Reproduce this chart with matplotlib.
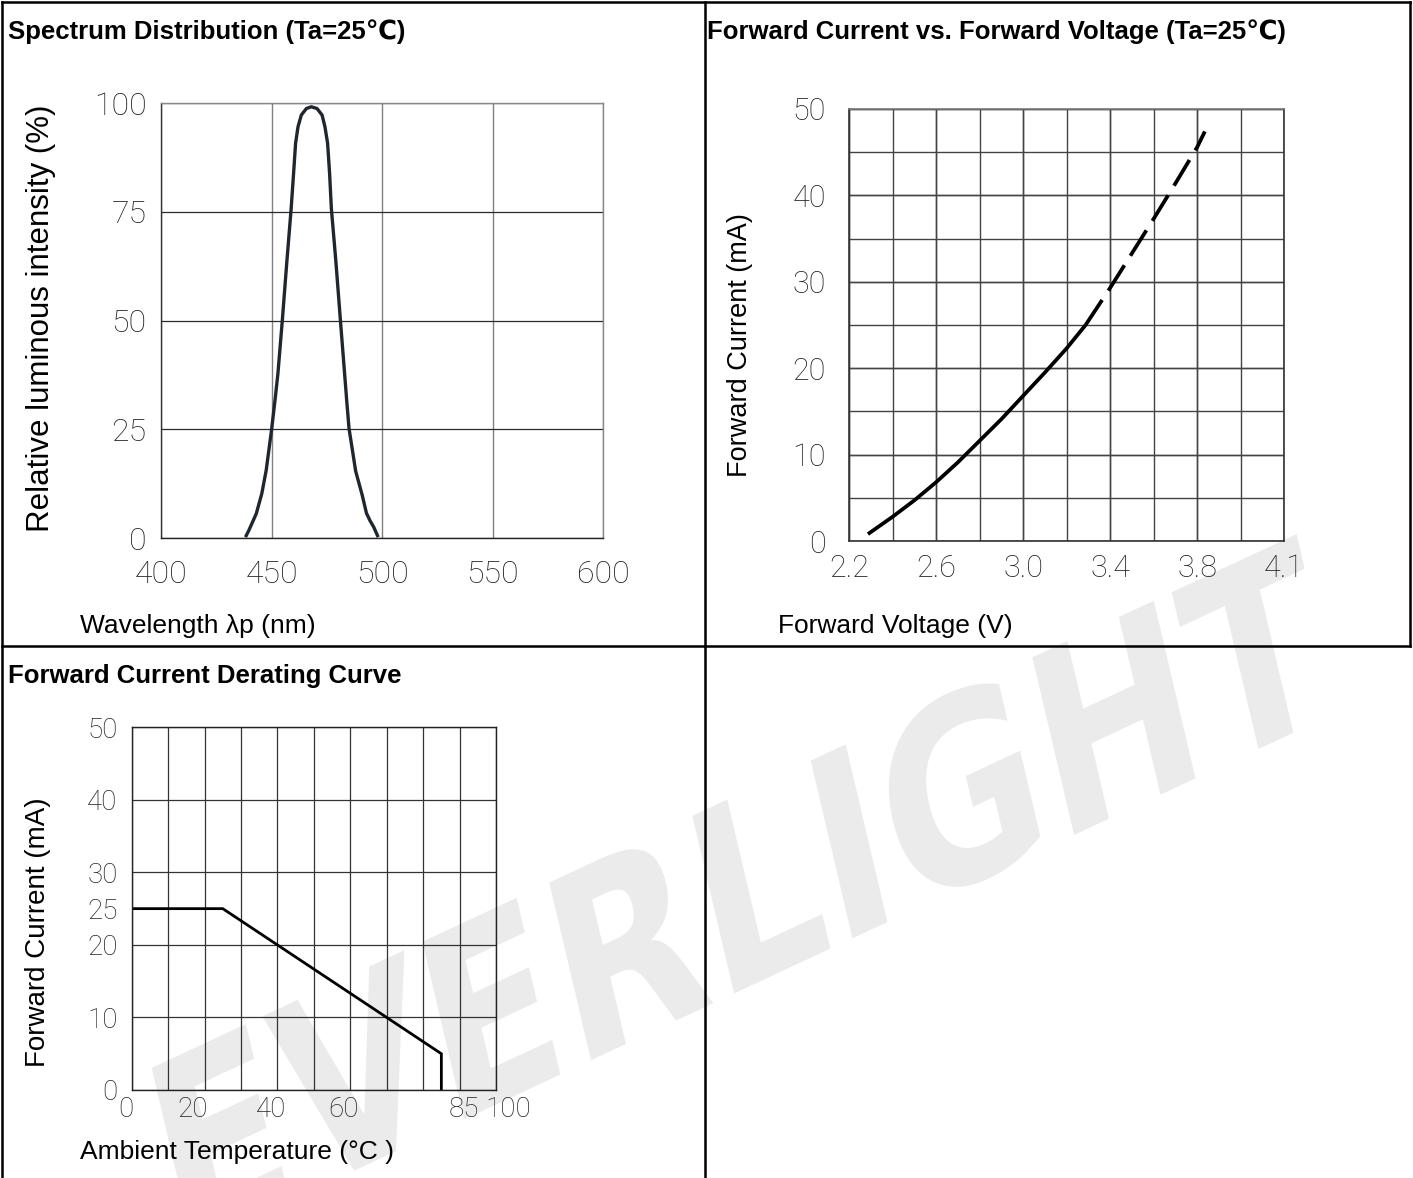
import matplotlib
matplotlib.use('Agg')
import matplotlib.pyplot as plt
import numpy as np
from matplotlib.lines import Line2D
from matplotlib.textpath import TextPath
from matplotlib.patches import PathPatch
from matplotlib.font_manager import FontProperties
from matplotlib.transforms import Affine2D, ScaledTranslation

W, H = 1413, 1178

# ---- data ----
# Spectrum distribution (Ta=25C)
spec_nm = [438.1, 439.5, 441.0, 443.0, 445.5, 447.5, 448.7, 450.0, 451.4, 452.8,
           454.8, 456.9, 458.8, 459.9, 460.8, 461.9, 463.4, 465.7, 467.9, 470.5,
           472.8, 474.1, 475.3, 476.2, 477.0, 479.0, 481.1, 483.0, 484.0, 485.0,
           486.6, 488.0, 491.0, 492.9, 494.6, 496.2, 498.2]
spec_pct = [0.2, 1.6, 3.3, 5.6, 10.2, 15.6, 20.2, 25.2, 31.3, 37.8,
            50.1, 63.9, 75.8, 83.9, 90.8, 94.6, 97.3, 98.8, 99.2, 98.8,
            97.3, 94.6, 90.8, 83.9, 75.8, 63.9, 50.1, 37.8, 31.3, 25.2,
            20.0, 15.4, 9.8, 5.7, 3.9, 2.5, 0.2]
spec_xticks = [400, 450, 500, 550, 600]
spec_yticks = [0, 25, 50, 75, 100]

# Forward current vs forward voltage (solid = measured, dashed = extrapolated)
iv_v = [2.287, 2.4, 2.5, 2.6, 2.7, 2.8, 2.9, 3.0, 3.1, 3.2, 3.287]
iv_ma = [0.8, 2.8, 4.7, 6.8, 9.1, 11.6, 14.1, 16.8, 19.5, 22.3, 25.0]
iv_v_ext = [3.287, 3.4, 3.5, 3.6, 3.7, 3.8, 3.835]
iv_ma_ext = [25.0, 29.3, 33.3, 37.3, 41.4, 45.6, 47.4]
iv_xticks = [2.2, 2.6, 3.0, 3.4, 3.8, 4.2]
iv_xticklabels = ['2.2', '2.6', '3.0', '3.4', '3.8', '4.1']
iv_yticks = [0, 10, 20, 30, 40, 50]

# Forward current derating curve
der_temp = [0, 25, 85, 85]
der_ma = [25, 25, 5, 0]
der_xticks = [0, 20, 40, 60, 85, 100]
der_yticks = [0, 10, 20, 25, 30, 40, 50]

titles = ['Spectrum Distribution (Ta=25\u2103)',
          'Forward Current vs. Forward Voltage (Ta=25\u2103)',
          'Forward Current Derating Curve']
watermark = 'EVERLIGHT'

SANS = ['Liberation Sans', 'DejaVu Sans']
TICK = dict(fontfamily='Roboto', fontweight='light', color='#222222')

fig = plt.figure(figsize=(W / 100, H / 100), dpi=100)
fig.patch.set_facecolor('white')


def px_axes(left, top, right, bottom):
    ax = fig.add_axes([left / W, 1 - bottom / H, (right - left) / W, (bottom - top) / H])
    ax.set_facecolor('none')
    ax.xaxis.remove_overlapping_locs = False
    ax.yaxis.remove_overlapping_locs = False
    ax.tick_params(which='both', length=0)
    return ax


def px_line(x0, y0, x1, y1):
    fig.add_artist(Line2D([x0 / W, x1 / W], [1 - y0 / H, 1 - y1 / H],
                          transform=fig.transFigure, color='black', lw=1.8,
                          solid_capstyle='projecting'))


# watermark (drawn under everything)
fp = FontProperties(family='DejaVu Sans', weight='bold')
tp = TextPath((0, 0), watermark, size=100, prop=fp)
bb = tp.get_extents()
tr = (Affine2D().translate(-(bb.x0 + bb.x1) / 2, -(bb.y0 + bb.y1) / 2)
      .skew_deg(14, 0).scale(2.05, 2.45).rotate_deg(25)
      .translate(745, H - 890).scale(1 / W, 1 / H) + fig.transFigure)
fig.add_artist(PathPatch(tp, transform=tr, facecolor='#ebebeb', edgecolor='none', zorder=-5))

# table frame
px_line(2, 2, 1410, 2)
px_line(2, 2, 2, 1178)
px_line(1410, 2, 1410, 646)
px_line(705, 2, 705, 1178)
px_line(2, 646, 1410, 646)

# titles
fig.text(8 / W, 1 - 32 / H, titles[0], fontsize=18.5, fontweight='bold', family=SANS, va='center')
fig.text(707 / W, 1 - 32 / H, titles[1], fontsize=18.5, fontweight='bold', family=SANS, va='center')
fig.text(8 / W, 1 - 676 / H, titles[2], fontsize=18.5, fontweight='bold', family=SANS, va='center')

# ---------------- spectrum ----------------
ax1 = px_axes(161.3, 103.3, 603, 538)
ax1.plot(spec_nm, spec_pct, color='#1f2630', lw=2.4, solid_capstyle='butt', solid_joinstyle='round')
ax1.set_xlim(400, 600)
ax1.set_ylim(0, 100)
ax1.set_xticks(spec_xticks, [str(t) for t in spec_xticks], fontsize=23, **TICK)
ax1.set_yticks(spec_yticks, [str(t) for t in spec_yticks], fontsize=23, **TICK)
ax1.tick_params(axis='x', pad=15.5)
ax1.tick_params(axis='y', pad=10.5)
ax1.xaxis.grid(True, color='#808080', lw=1.0)
ax1.yaxis.grid(True, color='#2a2a2a', lw=0.9)
for s, c in [('left', '#333333'), ('bottom', '#222222'), ('top', '#888888'), ('right', '#888888')]:
    ax1.spines[s].set_color(c)
    ax1.spines[s].set_linewidth(1.0)
ax1.set_ylabel('Relative luminous intensity (%)', fontsize=22.5, family=SANS, va='center')
ax1.yaxis.set_label_coords(-0.272, 0.506)
ax1.set_xlabel('Wavelength \u03bbp (nm)', fontsize=19, family=SANS, ha='left', va='center')
ax1.xaxis.set_label_coords(-0.184, -0.2024)

# ---------------- IF vs VF ----------------
ax2 = px_axes(849, 109, 1284.3, 541)
ax2.plot(iv_v, iv_ma, color='black', lw=2.7, solid_capstyle='butt', solid_joinstyle='round')
ax2.plot(iv_v_ext, iv_ma_ext, color='black', lw=2.7, dashes=(8, 3), dash_capstyle='butt')
ax2.set_xlim(2.2, 4.2)
ax2.set_ylim(0, 50)
ax2.set_xticks(iv_xticks, iv_xticklabels, fontsize=22, **TICK)
ax2.set_yticks(iv_yticks, [str(t) for t in iv_yticks], fontsize=22, **TICK)
ax2.set_xticks(np.arange(2.2, 4.21, 0.2), minor=True)
ax2.set_yticks(np.arange(0, 51, 5), minor=True)
ax2.tick_params(which='both', length=0)
ax2.tick_params(axis='x', pad=9)
ax2.tick_params(axis='y', pad=16.5)
ax2.grid(True, which='both', color='#444444', lw=1.0)
for s, c in [('left', '#333333'), ('bottom', '#333333'), ('top', '#777777'), ('right', '#333333')]:
    ax2.spines[s].set_color(c)
    ax2.spines[s].set_linewidth(1.2)
ax2.set_ylabel('Forward Current (mA)', fontsize=19.5, family=SANS, va='center')
ax2.yaxis.set_label_coords(-0.250, 0.454)
ax2.set_xlabel('Forward Voltage (V)', fontsize=19, family=SANS, ha='left', va='center')
ax2.xaxis.set_label_coords(-0.163, -0.197)

# ---------------- derating ----------------
ax3 = px_axes(131.7, 727.3, 496, 1090)
ax3.plot(der_temp, der_ma, color='black', lw=2.0, solid_joinstyle='miter')
ax3.set_xlim(0, 100)
ax3.set_ylim(0, 50)
ax3.set_xticks(der_xticks, [str(t) for t in der_xticks], fontsize=20, **TICK)
ax3.set_yticks(der_yticks, [str(t) for t in der_yticks], fontsize=20, **TICK)
ax3.set_xticks(np.arange(0, 101, 10), minor=True)
ax3.set_yticks(np.arange(0, 51, 10), minor=True)
ax3.tick_params(which='both', length=0)
ax3.tick_params(axis='x', pad=4.5)
ax3.tick_params(axis='y', pad=10)
ax3.grid(False, which='major')
ax3.grid(True, which='minor', color='#333333', lw=0.9)
for s in ax3.spines.values():
    s.set_color('#222222')
    s.set_linewidth(1.0)
# the datasheet prints these labels slightly off their grid positions
for lbl, dx in zip(ax3.get_xticklabels(), [-6, -12, -6, -7, 22, 12]):
    lbl.set_transform(lbl.get_transform() + ScaledTranslation(dx / 100, 0, fig.dpi_scale_trans))
ax3.set_ylabel('Forward Current (mA)', fontsize=20, family=SANS, va='center')
ax3.yaxis.set_label_coords(-0.257, 0.436)
ax3.set_xlabel('Ambient Temperature (\u00b0C )', fontsize=19, family=SANS, ha='left', va='center')
ax3.xaxis.set_label_coords(-0.142, -0.171)

fig.savefig('out.png', dpi=100)
